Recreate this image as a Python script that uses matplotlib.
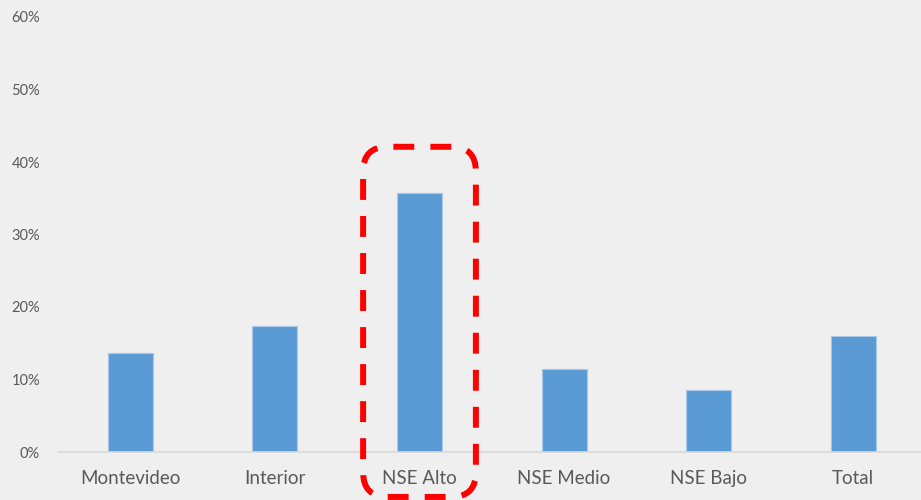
import matplotlib.pyplot as plt
from matplotlib.patches import FancyBboxPatch
from matplotlib.ticker import FuncFormatter

categorias = ["Montevideo", "Interior", "NSE Alto", "NSE Medio", "NSE Bajo", "Total"]
valores = [13.6, 17.4, 35.7, 11.5, 8.5, 16.0]
ticks_y = [0, 10, 20, 30, 40, 50, 60]
destacado = "NSE Alto"

fondo = "#efefef"
azul = "#5b9bd5"
gris_texto = "#595959"

plt.rcParams["font.family"] = ["Lato", "DejaVu Sans"]

fig = plt.figure(figsize=(9.21, 5), dpi=100, facecolor=fondo)
ax = fig.add_axes([58 / 921, 48 / 500, 867.6 / 921, 435 / 500])
ax.set_facecolor(fondo)

x = range(len(categorias))
ax.bar(x, valores, width=0.31, color=azul, edgecolor="#a9c8e8", linewidth=0.8, zorder=2)

ax.set_xlim(-0.5, len(categorias) - 0.5)
ax.set_ylim(0, 60)
ax.set_yticks(ticks_y)
ax.yaxis.set_major_formatter(FuncFormatter(lambda v, _: f"{v:.0f}%"))
ax.set_xticks(list(x))
ax.set_xticklabels(categorias)

for lado in ["top", "right", "left"]:
    ax.spines[lado].set_visible(False)
ax.spines["bottom"].set_color("#d9d9d9")
ax.spines["bottom"].set_linewidth(1.2)

ax.tick_params(axis="y", length=0, pad=13, labelsize=10.5, labelcolor=gris_texto)
ax.tick_params(axis="x", length=0, pad=13, labelsize=13.5, labelcolor=gris_texto)

# recuadro rojo punteado alrededor de la categoría destacada
i = categorias.index(destacado)
px_x = 1 / 144.6
px_y = 60 / 435
recuadro = FancyBboxPatch(
    (i - 0.39, -6.2), 0.78, 48.3,
    boxstyle="round,pad=0,rounding_size=0.17",
    mutation_aspect=px_y / px_x,
    fill=False, edgecolor="#ff0000", linewidth=4.3,
    linestyle=(0, (3.5, 2.7)), clip_on=False, zorder=3,
)
ax.add_patch(recuadro)

fig.savefig("out.png", dpi=100, facecolor=fondo)
